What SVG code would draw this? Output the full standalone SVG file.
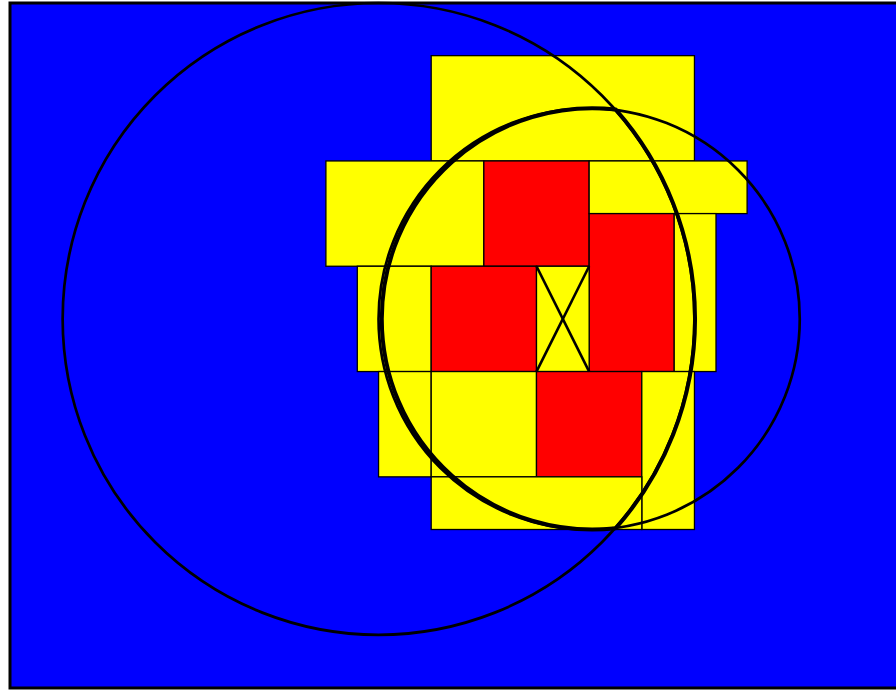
<svg xmlns="http://www.w3.org/2000/svg" width="896" height="690" viewBox="0 0 896 690">
<style>
.bg{fill:#0000ff;stroke:#000;stroke-width:3}
.y{fill:#ffff00;stroke:#000;stroke-width:1.3}
.r{fill:#ff0000;stroke:#000;stroke-width:1.3}
.c{fill:none;stroke:#000;stroke-width:2.7}
.lens{fill:none;stroke:#000;stroke-width:4}
.x{stroke:#000;stroke-width:2.6}
</style>
<rect id="background" class="bg" x="10" y="3" width="900" height="685"/>
<g id="tiles">
<rect class="y" x="431.2" y="55.65" width="263.25" height="105.3"/>
<rect class="y" x="325.9" y="160.95" width="157.95" height="105.3"/>
<rect class="r" x="483.85" y="160.95" width="105.3" height="105.3"/>
<rect class="y" x="589.15" y="160.95" width="157.95" height="52.65"/>
<rect class="y" x="674" y="213.6" width="42" height="157.95"/>
<rect class="r" x="589.15" y="213.6" width="84.85" height="157.95"/>
<rect class="y" x="357.3" y="266.25" width="73.9" height="105.3"/>
<rect class="r" x="431.2" y="266.25" width="105.3" height="105.3"/>
<rect class="y" x="536.5" y="266.25" width="52.65" height="105.3"/>
<rect class="y" x="378.55" y="371.55" width="52.65" height="105.3"/>
<rect class="y" x="431.2" y="371.55" width="105.3" height="105.3"/>
<rect class="r" x="536.5" y="371.55" width="105.3" height="105.3"/>
<rect class="y" x="641.8" y="371.55" width="52.65" height="157.95"/>
<rect class="y" x="431.2" y="476.85" width="210.6" height="52.65"/>
</g>
<g id="cross">
<line class="x" x1="536.5" y1="266.25" x2="589.15" y2="371.55"/>
<line class="x" x1="589.15" y1="266.25" x2="536.5" y2="371.55"/>
</g>
<g id="circles">
<circle class="c" cx="378.55" cy="318.9" r="315.9"/>
<circle class="c" cx="589.15" cy="318.9" r="210.6"/>
<path class="lens" d="M615.75,109.6 A210.6,210.6 0 1 0 615.75,528.2 A315.9,315.9 0 0 0 615.75,109.6 Z"/>
</g>
</svg>
